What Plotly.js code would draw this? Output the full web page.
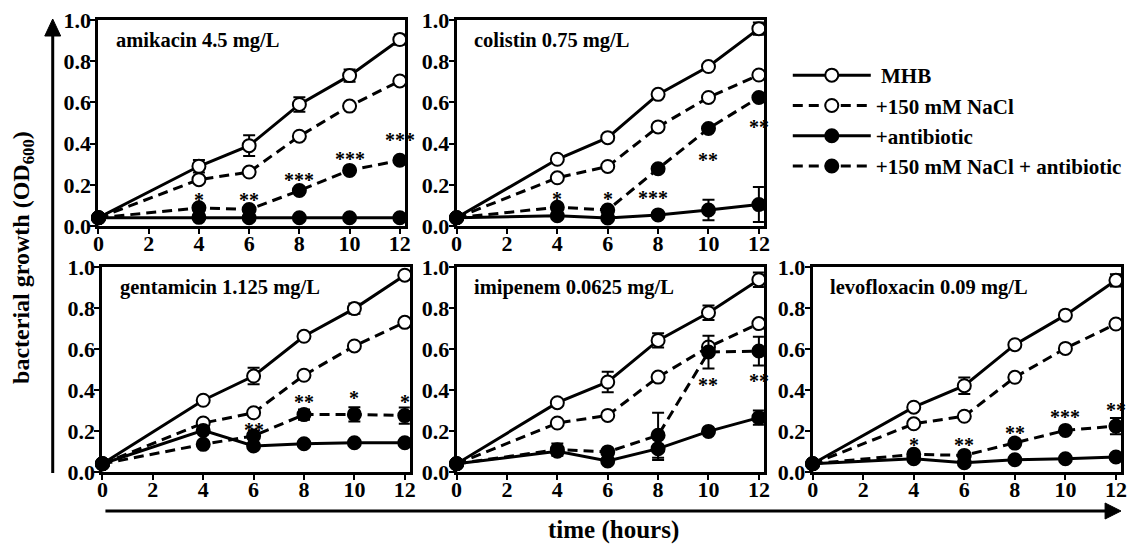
<!DOCTYPE html>
<html>
<head>
<meta charset="utf-8">
<script src="https://cdn.plot.ly/plotly-3.0.1.min.js"></script>
<style>html,body{margin:0;padding:0;background:#fff}#chart{width:1127px;height:545px}</style>
</head>
<body>
<div id="chart"></div>
<script>
// ---------- data ----------
const hours = [0, 4, 6, 8, 10, 12];
const seriesNames = [' MHB', '+150 mM NaCl', '+antibiotic', '+150 mM NaCl + antibiotic'];
const panelTitles = ['amikacin 4.5 mg/L', 'colistin 0.75 mg/L', 'gentamicin 1.125 mg/L', 'imipenem 0.0625 mg/L', 'levofloxacin 0.09 mg/L'];

// amikacin
const amikacin_MHB      = [0.04, 0.29, 0.39, 0.59, 0.73, 0.905];
const amikacin_MHB_err  = [0, 0.03, 0.05, 0.035, 0.03, 0.025];
const amikacin_NaCl     = [0.04, 0.225, 0.262, 0.436, 0.582, 0.704];
const amikacin_Abx      = [0.04, 0.042, 0.04, 0.04, 0.04, 0.04];
const amikacin_NaClAbx  = [0.04, 0.088, 0.08, 0.172, 0.27, 0.319];
const amikacin_starX    = [4, 6, 8, 10, 12];
const amikacin_starY    = [0.15, 0.15, 0.25, 0.35, 0.44];
const amikacin_starTxt  = ['*', '**', '***', '***', '***'];

// colistin
const colistin_MHB      = [0.04, 0.324, 0.429, 0.639, 0.774, 0.958];
const colistin_MHB_err  = [0, 0, 0, 0, 0, 0.03];
const colistin_NaCl     = [0.04, 0.234, 0.289, 0.481, 0.624, 0.733];
const colistin_Abx      = [0.04, 0.05, 0.039, 0.054, 0.078, 0.104];
const colistin_Abx_err  = [0, 0, 0, 0, 0.05, 0.085];
const colistin_NaClAbx  = [0.04, 0.091, 0.078, 0.278, 0.473, 0.624];
const colistin_starX    = [4, 6, 7.8, 10, 12];
const colistin_starY    = [0.156, 0.156, 0.16, 0.343, 0.506];
const colistin_starTxt  = ['*', '*', '***', '**', '**'];

// gentamicin
const gentamicin_MHB     = [0.04, 0.35, 0.468, 0.662, 0.797, 0.96];
const gentamicin_MHB_err = [0, 0, 0.04, 0, 0.025, 0.015];
const gentamicin_NaCl    = [0.04, 0.239, 0.289, 0.472, 0.615, 0.73];
const gentamicin_Abx     = [0.04, 0.203, 0.127, 0.138, 0.143, 0.143];
const gentamicin_NaClAbx = [0.04, 0.135, 0.176, 0.28, 0.281, 0.275];
const gentamicin_NaClAbx_err = [0, 0, 0, 0.025, 0.035, 0.04];
const gentamicin_starX   = [6, 8, 10, 12];
const gentamicin_starY   = [0.228, 0.366, 0.385, 0.366];
const gentamicin_starTxt = ['**', '**', '*', '*'];

// imipenem
const imipenem_MHB      = [0.04, 0.338, 0.439, 0.642, 0.777, 0.938];
const imipenem_MHB_err  = [0, 0, 0.05, 0.035, 0.035, 0.035];
const imipenem_NaCl     = [0.04, 0.239, 0.276, 0.463, 0.61, 0.724];
const imipenem_Abx      = [0.04, 0.101, 0.054, 0.114, 0.198, 0.265];
const imipenem_Abx_err  = [0, 0, 0, 0.055, 0, 0.035];
const imipenem_NaClAbx  = [0.04, 0.109, 0.098, 0.179, 0.585, 0.59];
const imipenem_NaClAbx_err = [0, 0.03, 0, 0.11, 0.08, 0.07];
const imipenem_starX    = [10, 12];
const imipenem_starY    = [0.447, 0.47];
const imipenem_starTxt  = ['**', '**'];

// levofloxacin
const levofloxacin_MHB     = [0.04, 0.316, 0.421, 0.621, 0.765, 0.935];
const levofloxacin_MHB_err = [0, 0, 0.04, 0, 0, 0.03];
const levofloxacin_NaCl    = [0.04, 0.235, 0.272, 0.462, 0.603, 0.722];
const levofloxacin_Abx     = [0.04, 0.065, 0.045, 0.06, 0.065, 0.073];
const levofloxacin_NaClAbx = [0.04, 0.086, 0.081, 0.141, 0.203, 0.224];
const levofloxacin_NaClAbx_err = [0, 0, 0, 0, 0, 0.04];
const levofloxacin_starX   = [4, 6, 8, 10, 12];
const levofloxacin_starY   = [0.154, 0.154, 0.214, 0.295, 0.325];
const levofloxacin_starTxt = ['*', '**', '**', '***', '**'];

const xTicks = [0, 2, 4, 6, 8, 10, 12];
const yTicks = [0, 0.2, 0.4, 0.6, 0.8, 1.0];

// ---------- layout helpers ----------
const W = 1127, H = 545;
const px = v => v / W;
const py = v => 1 - v / H;
const FONT = 'Liberation Serif, Times New Roman, serif';

const panels = [
  {d: [amikacin_MHB, amikacin_NaCl, amikacin_Abx, amikacin_NaClAbx], e: [amikacin_MHB_err, null, null, null], sx: amikacin_starX, sy: amikacin_starY, st: amikacin_starTxt, x0: 99, x1: 407, yt: 20, yb: 226},
  {d: [colistin_MHB, colistin_NaCl, colistin_Abx, colistin_NaClAbx], e: [colistin_MHB_err, null, colistin_Abx_err, null], sx: colistin_starX, sy: colistin_starY, st: colistin_starTxt, x0: 459, x1: 768, yt: 20, yb: 226},
  {d: [gentamicin_MHB, gentamicin_NaCl, gentamicin_Abx, gentamicin_NaClAbx], e: [gentamicin_MHB_err, null, null, gentamicin_NaClAbx_err], sx: gentamicin_starX, sy: gentamicin_starY, st: gentamicin_starTxt, x0: 103, x1: 412, yt: 267, yb: 472},
  {d: [imipenem_MHB, imipenem_NaCl, imipenem_Abx, imipenem_NaClAbx], e: [imipenem_MHB_err, null, imipenem_Abx_err, imipenem_NaClAbx_err], sx: imipenem_starX, sy: imipenem_starY, st: imipenem_starTxt, x0: 459, x1: 768, yt: 267, yb: 472},
  {d: [levofloxacin_MHB, levofloxacin_NaCl, levofloxacin_Abx, levofloxacin_NaClAbx], e: [levofloxacin_MHB_err, null, null, levofloxacin_NaClAbx_err], sx: levofloxacin_starX, sy: levofloxacin_starY, st: levofloxacin_starTxt, x0: 817, x1: 1127, yt: 267, yb: 472}
];

const styles = [
  {dash: 'solid', fill: '#ffffff'},
  {dash: '10px,6px', fill: '#ffffff'},
  {dash: 'solid', fill: '#000000'},
  {dash: '10px,6px', fill: '#000000'}
];

const TICKFONT = {family: FONT, size: 22, color: '#000', weight: 'bold'};
const traces = [];
const annotations = [];
const layout = {
  width: W, height: H,
  margin: {l: 0, r: 0, t: 0, b: 0},
  paper_bgcolor: '#ffffff', plot_bgcolor: '#ffffff',
  font: {family: FONT, size: 19, color: '#000', weight: 'bold'},
  showlegend: true,
  legend: {
    x: px(792), y: py(55), xanchor: 'left', yanchor: 'top',
    font: {family: FONT, size: 21, color: '#000', weight: 'bold'},
    bgcolor: 'rgba(0,0,0,0)', itemwidth: 78, tracegroupgap: 4,
    traceorder: 'normal'
  },
  shapes: [],
  annotations: annotations
};

panels.forEach((p, i) => {
  const n = i === 0 ? '' : String(i + 1);
  const xa = 'x' + n, ya = 'y' + n;
  const xmax = 12.2;
  layout['xaxis' + n] = {
    domain: [px(p.x0), px(p.x1)], anchor: ya, range: [0, xmax],
    tickvals: xTicks, ticktext: xTicks.map(String),
    ticks: 'outside', ticklen: 5, tickwidth: 2, tickcolor: '#000',
    ticklabelstandoff: -9, ticklabeloverflow: 'allow',
    showline: true, mirror: true, linewidth: 3, linecolor: '#000',
    showgrid: false, zeroline: false, fixedrange: true,
    tickfont: TICKFONT
  };
  layout['yaxis' + n] = {
    domain: [py(p.yb), py(p.yt)], anchor: xa, range: [0, 1],
    tickvals: yTicks, ticktext: yTicks.map(v => v.toFixed(1)),
    ticks: 'outside', ticklen: 5, tickwidth: 2, tickcolor: '#000',
    ticklabelstandoff: -5, ticklabeloverflow: 'allow',
    showline: true, mirror: true, linewidth: 3, linecolor: '#000',
    showgrid: false, zeroline: false, fixedrange: true,
    tickfont: TICKFONT
  };
  p.d.forEach((vals, k) => {
    const t = {
      type: 'scatter', mode: 'lines+markers', x: hours, y: vals,
      xaxis: xa, yaxis: ya, name: seriesNames[k], legendgroup: 'g' + k,
      showlegend: i === 0, cliponaxis: false,
      line: {color: '#000', width: 3, dash: styles[k].dash},
      marker: {symbol: 'circle', size: 13, color: styles[k].fill, line: {color: '#000', width: 2}}
    };
    if (p.e[k]) {
      t.error_y = {type: 'data', array: p.e[k], visible: true, color: '#000', thickness: 2, width: 6};
    }
    traces.push(t);
  });
  annotations.push({
    xref: xa + ' domain', yref: ya + ' domain', x: 0.05, y: 0.9,
    xanchor: 'left', yanchor: 'middle', showarrow: false,
    text: panelTitles[i], font: {family: FONT, size: 20.5, color: '#000', weight: 'bold'}
  });
  p.sx.forEach((sx, j) => {
    annotations.push({
      xref: xa, yref: ya, x: sx, y: p.sy[j], xanchor: 'center', yanchor: 'middle',
      yshift: -5, showarrow: false, text: p.st[j],
      font: {family: FONT, size: 20, color: '#000', weight: 'bold'}
    });
  });
});

// axis titles
annotations.push({
  xref: 'paper', yref: 'paper', x: px(23), y: py(257), xanchor: 'center', yanchor: 'middle',
  showarrow: false, textangle: -90, text: 'bacterial growth (OD<sub>600</sub>)',
  font: {family: FONT, size: 24, color: '#000', weight: 'bold'}
});
annotations.push({
  xref: 'paper', yref: 'paper', x: px(617), y: py(530), xanchor: 'center', yanchor: 'middle',
  showarrow: false, text: 'time (hours)',
  font: {family: FONT, size: 25, color: '#000', weight: 'bold'}
});

// arrows (decoration)
layout.shapes.push({type: 'line', xref: 'paper', yref: 'paper', x0: px(53), x1: px(53), y0: py(473), y1: py(32), line: {color: '#000', width: 3}});
layout.shapes.push({type: 'path', xref: 'paper', yref: 'paper', fillcolor: '#000', line: {color: '#000', width: 1},
  path: `M ${px(53)} ${py(19)} L ${px(45)} ${py(36)} L ${px(61)} ${py(36)} Z`});
layout.shapes.push({type: 'line', xref: 'paper', yref: 'paper', x0: px(106), x1: px(1114), y0: py(511), y1: py(511), line: {color: '#000', width: 3}});
layout.shapes.push({type: 'path', xref: 'paper', yref: 'paper', fillcolor: '#000', line: {color: '#000', width: 1},
  path: `M ${px(1127)} ${py(511)} L ${px(1111)} ${py(503)} L ${px(1111)} ${py(519)} Z`});

Plotly.newPlot('chart', traces, layout, {staticPlot: true, displayModeBar: false});
</script>
</body>
</html>
